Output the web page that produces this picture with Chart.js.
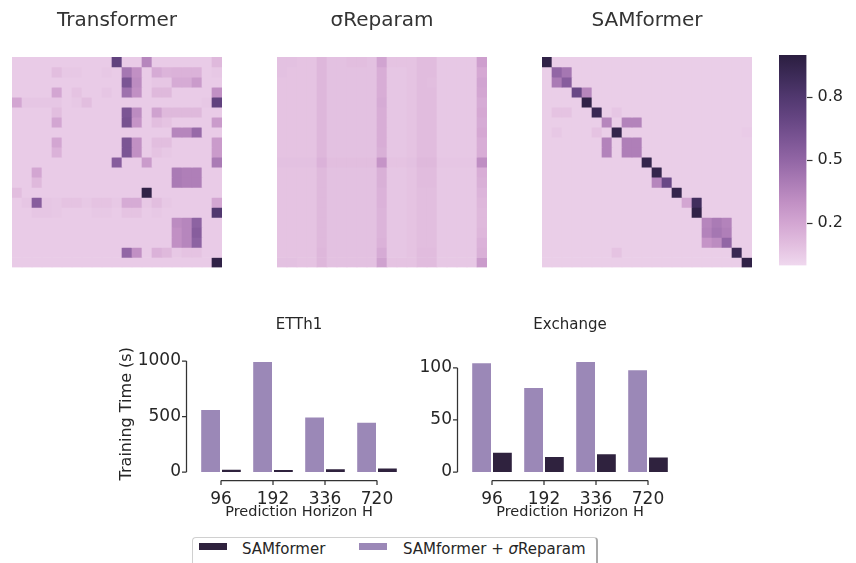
<!DOCTYPE html>
<html>
<head>
<meta charset="utf-8">
<script src="https://cdn.jsdelivr.net/npm/chart.js@4.4.1/dist/chart.umd.min.js"></script>
<style>
  html, body { margin: 0; padding: 0; background: #fff; width: 856px; height: 563px; overflow: hidden; }
  body { position: relative; font-family: "DejaVu Sans", sans-serif; color: #262626; }
  canvas { position: absolute; display: block; }
  #legendFrame { position: absolute; left: 192px; top: 537px; width: 406px; height: 40px;
    box-sizing: border-box; border: 1px solid #d0d0d0; border-right: 2px solid #a9a9a9; border-radius: 4px; }
  .sw { position: absolute; width: 28px; height: 7px; }
  .lt { position: absolute; font-size: 15px; line-height: 15px; white-space: nowrap; color: #262626; }
</style>
</head>
<body>
<canvas id="hmTransformer" width="230" height="276" style="left:2px;top:0"></canvas>
<canvas id="hmReparam" width="230" height="276" style="left:267px;top:0"></canvas>
<canvas id="hmSam" width="230" height="276" style="left:532px;top:0"></canvas>
<canvas id="cbar" width="86" height="240" style="left:770px;top:40px"></canvas>
<canvas id="barEtth1" width="310" height="225" style="left:100px;top:300px"></canvas>
<canvas id="barExchange" width="290" height="225" style="left:405px;top:300px"></canvas>
<div id="legendFrame"></div>
<div id="legendItems"></div>

<script>
// ---------- attention maps (rows x columns, 21 x 21) ----------
const heatmapTitles = ['Transformer', 'σReparam', 'SAMformer'];

const attnTransformer = [
  [.05,.05,.05,.05,.05,.05,.05,.05,.05,.05,.72,.05,.05,.35,.05,.05,.05,.05,.05,.05,.12],
  [.05,.05,.05,.05,.10,.06,.06,.05,.05,.06,.05,.42,.30,.05,.18,.14,.15,.15,.15,.05,.06],
  [.05,.05,.05,.05,.05,.05,.05,.05,.05,.05,.05,.60,.32,.05,.07,.07,.18,.18,.25,.05,.05],
  [.05,.05,.05,.05,.20,.05,.08,.05,.05,.07,.05,.45,.30,.05,.12,.12,.05,.05,.05,.05,.30],
  [.20,.07,.07,.07,.07,.05,.06,.10,.05,.05,.05,.05,.05,.05,.05,.05,.05,.05,.05,.06,.72],
  [.05,.05,.05,.05,.10,.05,.05,.05,.05,.05,.05,.60,.32,.05,.22,.12,.12,.12,.12,.05,.05],
  [.05,.05,.05,.05,.20,.05,.05,.05,.05,.05,.05,.62,.28,.05,.10,.08,.05,.05,.05,.05,.25],
  [.05,.05,.05,.05,.05,.05,.05,.05,.05,.05,.05,.05,.05,.05,.05,.05,.35,.35,.48,.05,.05],
  [.05,.05,.05,.05,.20,.05,.05,.05,.05,.05,.05,.60,.30,.05,.10,.10,.05,.05,.05,.05,.25],
  [.05,.05,.05,.05,.15,.05,.05,.05,.05,.05,.05,.60,.30,.05,.08,.06,.05,.05,.05,.05,.25],
  [.05,.05,.05,.05,.05,.05,.05,.05,.05,.05,.55,.05,.05,.25,.05,.05,.05,.05,.05,.05,.40],
  [.05,.05,.20,.05,.05,.05,.05,.05,.05,.05,.05,.05,.05,.05,.05,.05,.40,.38,.38,.05,.05],
  [.05,.05,.12,.05,.05,.05,.05,.05,.05,.05,.05,.05,.05,.05,.05,.05,.40,.38,.38,.05,.05],
  [.10,.05,.05,.05,.05,.05,.05,.05,.05,.05,.05,.05,.05,.97,.05,.05,.05,.05,.05,.05,.05],
  [.05,.07,.55,.07,.06,.08,.08,.06,.08,.08,.06,.18,.18,.06,.10,.06,.05,.05,.05,.05,.20],
  [.05,.05,.07,.07,.06,.05,.05,.05,.06,.06,.05,.08,.08,.05,.06,.05,.05,.05,.05,.05,.80],
  [.05,.05,.05,.05,.05,.05,.05,.05,.05,.05,.05,.05,.05,.05,.05,.05,.32,.35,.52,.05,.05],
  [.05,.05,.05,.05,.05,.05,.05,.05,.05,.05,.05,.05,.05,.05,.05,.05,.30,.35,.55,.05,.05],
  [.05,.05,.05,.05,.05,.05,.05,.05,.05,.05,.05,.05,.05,.05,.05,.05,.30,.35,.52,.05,.05],
  [.05,.05,.05,.05,.05,.05,.05,.05,.05,.05,.05,.50,.30,.05,.15,.12,.06,.08,.08,.05,.05],
  [.05,.05,.05,.05,.05,.05,.05,.05,.05,.05,.05,.05,.05,.05,.05,.05,.05,.05,.05,.05,.97]
];

const attnReparam = [
  [.09,.09,.08,.08,.13,.09,.09,.10,.10,.09,.21,.08,.08,.08,.11,.11,.06,.06,.06,.06,.23],
  [.09,.08,.08,.08,.13,.09,.09,.09,.09,.09,.17,.07,.07,.08,.11,.11,.06,.06,.06,.06,.19],
  [.08,.08,.08,.08,.13,.09,.09,.09,.09,.09,.17,.07,.07,.08,.11,.10,.06,.06,.06,.06,.21],
  [.08,.08,.08,.08,.13,.09,.09,.09,.09,.09,.17,.07,.07,.08,.11,.11,.06,.06,.06,.06,.20],
  [.08,.08,.08,.08,.13,.09,.09,.09,.09,.09,.18,.07,.07,.08,.11,.11,.06,.06,.06,.06,.18],
  [.08,.08,.08,.08,.13,.09,.09,.09,.09,.09,.17,.07,.07,.08,.11,.11,.06,.06,.06,.06,.19],
  [.08,.08,.08,.08,.13,.09,.09,.09,.09,.09,.17,.07,.07,.08,.11,.11,.06,.06,.06,.06,.18],
  [.08,.08,.08,.08,.13,.09,.09,.09,.09,.09,.17,.07,.07,.08,.11,.11,.06,.06,.06,.06,.19],
  [.08,.08,.08,.08,.13,.09,.09,.09,.09,.09,.17,.07,.07,.08,.11,.11,.06,.06,.06,.06,.17],
  [.08,.08,.08,.08,.13,.09,.09,.09,.09,.09,.16,.07,.07,.08,.11,.11,.06,.06,.06,.06,.17],
  [.09,.09,.09,.09,.15,.10,.10,.10,.10,.10,.28,.08,.08,.09,.12,.12,.07,.07,.07,.07,.31],
  [.08,.08,.08,.08,.12,.09,.09,.09,.09,.09,.16,.07,.07,.08,.11,.11,.06,.06,.06,.06,.17],
  [.08,.08,.08,.08,.12,.09,.09,.09,.09,.09,.16,.07,.07,.08,.11,.11,.06,.06,.06,.06,.16],
  [.08,.08,.08,.08,.12,.09,.09,.09,.09,.09,.15,.07,.07,.08,.10,.10,.06,.06,.06,.06,.14],
  [.08,.08,.08,.08,.12,.09,.09,.09,.09,.09,.15,.07,.07,.08,.10,.10,.06,.06,.06,.06,.13],
  [.08,.08,.08,.08,.12,.09,.09,.09,.09,.09,.14,.07,.07,.08,.10,.10,.06,.06,.06,.06,.12],
  [.08,.08,.08,.08,.12,.09,.09,.09,.09,.09,.14,.07,.07,.08,.10,.10,.06,.06,.06,.06,.12],
  [.08,.08,.08,.08,.12,.09,.09,.09,.09,.09,.14,.07,.07,.08,.10,.10,.06,.06,.06,.06,.13],
  [.08,.08,.08,.08,.12,.09,.09,.09,.09,.09,.15,.07,.07,.08,.10,.10,.06,.06,.06,.06,.15],
  [.08,.08,.08,.08,.13,.09,.09,.09,.09,.09,.18,.07,.07,.08,.11,.11,.06,.06,.06,.06,.16],
  [.09,.09,.08,.08,.13,.09,.09,.09,.09,.09,.22,.08,.08,.08,.11,.11,.06,.06,.06,.06,.25]
];

const attnSam = [
  [.97,.04,.04,.04,.04,.04,.04,.04,.04,.04,.04,.04,.04,.04,.04,.04,.04,.04,.04,.04,.04],
  [.04,.50,.42,.04,.04,.04,.04,.04,.04,.04,.04,.04,.04,.04,.04,.04,.04,.04,.04,.04,.04],
  [.04,.40,.55,.04,.04,.04,.04,.04,.04,.04,.04,.04,.04,.04,.04,.04,.04,.04,.04,.04,.04],
  [.04,.04,.04,.68,.35,.04,.04,.04,.04,.04,.04,.04,.04,.04,.04,.04,.04,.04,.04,.04,.04],
  [.04,.04,.04,.04,.97,.04,.04,.04,.04,.04,.04,.04,.04,.04,.04,.04,.04,.04,.04,.04,.04],
  [.04,.08,.08,.04,.04,.92,.04,.07,.04,.04,.04,.04,.04,.04,.04,.04,.04,.04,.04,.04,.04],
  [.04,.04,.04,.04,.04,.04,.35,.04,.36,.36,.04,.04,.04,.04,.04,.04,.04,.04,.04,.04,.04],
  [.04,.06,.04,.04,.04,.08,.04,.95,.04,.04,.04,.04,.04,.04,.04,.04,.04,.04,.04,.04,.05],
  [.04,.04,.04,.04,.04,.04,.36,.04,.38,.38,.04,.04,.04,.04,.04,.04,.04,.04,.04,.04,.04],
  [.04,.04,.04,.04,.04,.04,.36,.04,.38,.38,.04,.04,.04,.04,.04,.04,.04,.04,.04,.04,.04],
  [.04,.04,.04,.04,.04,.04,.04,.04,.04,.04,.95,.04,.04,.04,.04,.04,.04,.04,.04,.04,.04],
  [.04,.04,.04,.04,.04,.04,.04,.04,.04,.04,.04,.95,.04,.04,.04,.04,.04,.04,.04,.04,.04],
  [.04,.04,.04,.04,.04,.04,.04,.04,.04,.04,.04,.35,.68,.04,.04,.04,.04,.04,.04,.04,.04],
  [.04,.04,.04,.04,.04,.04,.04,.04,.04,.04,.04,.04,.04,.95,.04,.04,.04,.04,.04,.04,.04],
  [.04,.04,.04,.04,.04,.04,.04,.04,.04,.04,.04,.04,.04,.04,.20,.88,.04,.04,.04,.04,.04],
  [.04,.04,.04,.04,.04,.04,.04,.04,.04,.04,.04,.04,.04,.04,.04,.97,.04,.04,.04,.04,.04],
  [.04,.04,.04,.04,.04,.04,.04,.04,.04,.04,.04,.04,.04,.04,.04,.04,.35,.40,.36,.04,.04],
  [.04,.04,.04,.04,.04,.04,.04,.04,.04,.04,.04,.04,.04,.04,.04,.04,.36,.42,.38,.04,.04],
  [.04,.04,.04,.04,.04,.04,.04,.04,.04,.04,.04,.04,.04,.04,.04,.04,.28,.32,.50,.04,.04],
  [.04,.04,.04,.04,.04,.04,.04,.08,.04,.04,.04,.04,.04,.04,.04,.04,.04,.04,.04,.92,.04],
  [.04,.04,.04,.04,.04,.04,.04,.04,.04,.04,.04,.04,.04,.04,.04,.04,.04,.04,.04,.04,.97]
];

// colour bar range and ticks
const cbarRange = [0, 1];
const cbarTicks = [0.2, 0.5, 0.8];

// ---------- training time (seconds) ----------
const horizons = ['96', '192', '336', '720'];
const seriesNames = ['SAMformer', 'SAMformer + σReparam'];
const etth1Sam     = [30, 28, 33, 40];
const etth1Reparam = [568, 1000, 501, 453];
const exchSam      = [19.5, 15.3, 18.0, 14.8];
const exchReparam  = [105.5, 81.7, 106.7, 98.7];
const etth1Ticks = [0, 500, 1000];
const exchTicks  = [0, 50, 100];

// ---------- styling ----------
const FONT = '"DejaVu Sans", sans-serif';
const TEXT = '#262626';
const seriesColors = ['#2f223e', '#9b88b7'];
const cmapStops = [
  [0.00, '#efd8ee'], [0.10, '#e2bedf'], [0.20, '#d3a6d2'], [0.30, '#c190c4'],
  [0.40, '#aa7bb5'], [0.50, '#9266a5'], [0.60, '#7b5594'], [0.70, '#654582'],
  [0.80, '#51386f'], [0.90, '#3d2b58'], [1.00, '#2b1e40']
];

Chart.defaults.font.family = FONT;
Chart.defaults.color = TEXT;

function hexToRgb(h) {
  return [parseInt(h.slice(1, 3), 16), parseInt(h.slice(3, 5), 16), parseInt(h.slice(5, 7), 16)];
}
function cmap(v) {
  const t = Math.min(1, Math.max(0, (v - cbarRange[0]) / (cbarRange[1] - cbarRange[0])));
  for (let i = 1; i < cmapStops.length; i++) {
    const [p1, c1] = cmapStops[i];
    if (t <= p1) {
      const [p0, c0] = cmapStops[i - 1];
      const f = (t - p0) / (p1 - p0);
      const a = hexToRgb(c0), b = hexToRgb(c1);
      const m = a.map((x, k) => Math.round(x + (b[k] - x) * f));
      return `rgb(${m[0]},${m[1]},${m[2]})`;
    }
  }
  return cmapStops[cmapStops.length - 1][1];
}

// ---------- heatmaps: one floating-bar dataset per row ----------
function heatmap(canvasId, title, matrix) {
  const n = matrix.length;
  const colLabels = matrix[0].map((_, c) => String(c));
  const datasets = matrix.map((row, r) => ({
    data: row.map(() => [r, r + 1]),
    backgroundColor: row.map(v => cmap(v)),
    borderWidth: 0,
    grouped: false,
    barPercentage: 1,
    categoryPercentage: 1
  }));
  return new Chart(document.getElementById(canvasId), {
    type: 'bar',
    data: { labels: colLabels, datasets },
    options: {
      responsive: false, animation: false, events: [],
      layout: { padding: { left: 10, right: 10, top: 9, bottom: 8.5 } },
      plugins: {
        legend: { display: false }, tooltip: { enabled: false },
        title: { display: true, text: title, color: '#333', font: { size: 20, weight: 'normal' },
                 padding: { top: 0, bottom: 24 } }
      },
      scales: {
        x: { display: false },
        y: { display: false, min: 0, max: n, reverse: true }
      }
    }
  });
}

heatmap('hmTransformer', heatmapTitles[0], attnTransformer);
heatmap('hmReparam', heatmapTitles[1], attnReparam);
heatmap('hmSam', heatmapTitles[2], attnSam);

// ---------- colour bar ----------
new Chart(document.getElementById('cbar'), {
  type: 'bar',
  data: {
    labels: [''],
    datasets: [{
      data: [cbarRange],
      borderWidth: 0, barPercentage: 1, categoryPercentage: 1,
      backgroundColor: (ctx) => {
        const ch = ctx.chart;
        if (!ch.chartArea) return cmapStops[0][1];
        const y = ch.scales.y;
        const g = ch.ctx.createLinearGradient(0, y.getPixelForValue(cbarRange[0]), 0, y.getPixelForValue(cbarRange[1]));
        cmapStops.forEach(([p, c]) => g.addColorStop(p, c));
        return g;
      }
    }]
  },
  options: {
    responsive: false, animation: false, events: [],
    layout: { padding: { left: 9, right: 0, top: 15, bottom: 13 } },
    plugins: { legend: { display: false }, tooltip: { enabled: false } },
    scales: {
      x: { display: false },
      y: {
        position: 'right', min: cbarRange[0], max: cbarRange[1],
        border: { display: false },
        grid: { display: true, drawOnChartArea: false, drawTicks: true, tickLength: 6, tickColor: '#333', tickWidth: 1.2 },
        ticks: { font: { size: 16 }, color: TEXT, padding: 5, callback: v => Number(v).toFixed(1) },
        afterBuildTicks: s => { s.ticks = cbarTicks.map(v => ({ value: v })); },
        afterFit: s => { s.width = 49.5; }
      }
    }
  }
});

// ---------- bar charts with offset, trimmed spines ----------
const offsetSpines = {
  id: 'offsetSpines',
  afterDraw(chart, args, opts) {
    const { ctx, chartArea: a, scales: { x, y } } = chart;
    const off = opts.offset, tk = opts.tick;
    const yVals = y.ticks.map(t => t.value);
    ctx.save();
    ctx.strokeStyle = opts.color;
    ctx.lineWidth = opts.width;
    ctx.beginPath();
    const sx = a.left - off;
    ctx.moveTo(sx, y.getPixelForValue(Math.min(...yVals)));
    ctx.lineTo(sx, y.getPixelForValue(Math.max(...yVals)));
    yVals.forEach(v => { const p = y.getPixelForValue(v); ctx.moveTo(sx, p); ctx.lineTo(sx - tk, p); });
    const sy = a.bottom + off;
    ctx.moveTo(x.getPixelForTick(0), sy);
    ctx.lineTo(x.getPixelForTick(x.ticks.length - 1), sy);
    x.ticks.forEach((t, i) => { const p = x.getPixelForTick(i); ctx.moveTo(p, sy); ctx.lineTo(p, sy + tk); });
    ctx.stroke();
    ctx.restore();
  }
};

function trainingBars(canvasId, title, reparam, sam, yMax, yTicks, yTitle, yWidth, padRight) {
  return new Chart(document.getElementById(canvasId), {
    type: 'bar',
    data: {
      labels: horizons,
      datasets: [
        { label: seriesNames[1], data: reparam, backgroundColor: seriesColors[1] },
        { label: seriesNames[0], data: sam, backgroundColor: seriesColors[0] }
      ]
    },
    options: {
      responsive: false, animation: false, events: [],
      datasets: { bar: { categoryPercentage: 0.8, barPercentage: 1, borderWidth: 1,
                         borderColor: 'rgba(255,255,255,0.55)', borderSkipped: 'start' } },
      layout: { padding: { left: 0, right: padRight, top: 16, bottom: 4.3 } },
      plugins: {
        legend: { display: false }, tooltip: { enabled: false },
        title: { display: true, text: title, fullSize: false, color: TEXT,
                 font: { size: 15, weight: 'normal' }, padding: { top: 0, bottom: 21.5 } },
        offsetSpines: { offset: 8.5, tick: 4.5, color: '#333', width: 1.25 }
      },
      scales: {
        x: {
          grid: { display: false, drawTicks: true, tickLength: 13 },
          border: { display: false },
          ticks: { font: { size: 17 }, color: TEXT, padding: 4.5, maxRotation: 0 },
          title: { display: true, text: 'Prediction Horizon H', color: TEXT, font: { size: 14.5 }, padding: 0 },
          afterFit: s => { s.height = 48.7; }
        },
        y: {
          min: 0, max: yMax,
          grid: { display: false, drawTicks: true, tickLength: 13 },
          border: { display: false },
          ticks: { font: { size: 17 }, color: TEXT, padding: 1, callback: v => String(v) },
          title: { display: !!yTitle, text: yTitle || '', color: TEXT, font: { size: 16 },
                   padding: { top: 17.4, bottom: 0 } },
          afterBuildTicks: s => { s.ticks = yTicks.map(v => ({ value: v })); },
          afterFit: s => { s.width = yWidth; }
        }
      }
    },
    plugins: [offsetSpines]
  });
}

trainingBars('barEtth1', 'ETTh1', etth1Reparam, etth1Sam, 1050, etth1Ticks, 'Training Time (s)', 95, 7);
trainingBars('barExchange', 'Exchange', exchReparam, exchSam, 112, exchTicks, '', 61, 21);

// ---------- shared legend ----------
(function buildLegend() {
  const host = document.getElementById('legendItems');
  const items = [
    { name: seriesNames[0], color: seriesColors[0], sw: 199, tx: 242 },
    { name: seriesNames[1], color: seriesColors[1], sw: 359, tx: 403 }
  ];
  items.forEach(it => {
    const s = document.createElement('div');
    s.className = 'sw';
    s.style.left = it.sw + 'px'; s.style.top = '543px'; s.style.background = it.color;
    host.appendChild(s);
    const t = document.createElement('div');
    t.className = 'lt';
    t.style.left = it.tx + 'px'; t.style.top = '541.5px';
    t.innerHTML = it.name.replace('σ', '<i>σ</i>');
    host.appendChild(t);
  });
})();
</script>
</body>
</html>
